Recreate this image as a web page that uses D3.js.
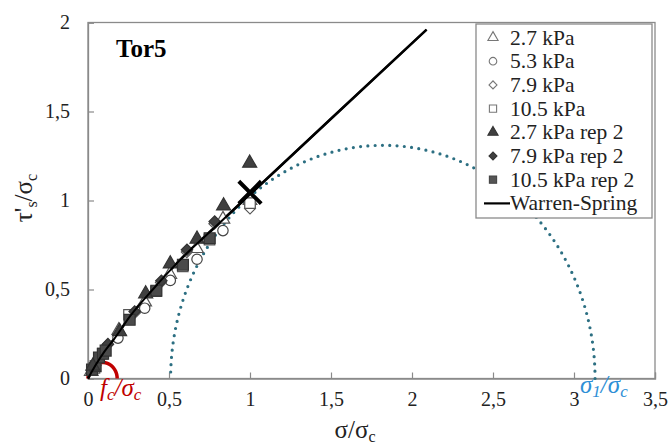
<!DOCTYPE html>
<html><head><meta charset="utf-8">
<script src="https://cdn.jsdelivr.net/npm/d3@7"></script>
<style>body{margin:0;background:#fff}svg{display:block}
svg text{font-family:"Liberation Serif","Times New Roman","DejaVu Serif",serif !important}</style>
</head><body><svg id="c" width="669" height="445"></svg>
<script>
// ---- data ----
const xTicks = [0,0.5,1,1.5,2,2.5,3,3.5];
const xTickLabels = ["0","0,5","1","1,5","2","2,5","3","3,5"];
const yTicks = [0,0.5,1,1.5,2];
const yTickLabels = ["0","0,5","1","1,5","2"];

const s27x  = [0.02,0.19,0.35,0.505,0.67,0.833,1.0];
const s27y  = [0.04,0.27,0.43,0.585,0.73,0.895,1.0];
const s53x  = [0.03,0.185,0.35,0.508,0.673,0.833,1.0];
const s53y  = [0.05,0.227,0.395,0.551,0.67,0.831,0.97];
const s79x  = [0.03,0.12,0.29,0.45,0.61,0.78,1.0];
const s79y  = [0.06,0.19,0.37,0.54,0.71,0.87,0.955];
const s105x = [0.04,0.09,0.253,0.42,0.585,0.75,1.0];
const s105y = [0.06,0.14,0.358,0.49,0.63,0.78,0.985];
const r27x  = [0.03,0.195,0.356,0.508,0.673,0.837,0.998];
const r27y  = [0.07,0.264,0.476,0.644,0.783,0.97,1.21];
const r79x  = [0.045,0.123,0.288,0.453,0.611,0.782];
const r79y  = [0.075,0.193,0.376,0.549,0.723,0.882];
const r105x = [0.025,0.047,0.068,0.093,0.109,0.257,0.422,0.586,0.751];
const r105y = [0.05,0.069,0.118,0.139,0.157,0.33,0.493,0.639,0.788];

const wsX = [0,0.05,0.1,0.16,0.26,0.4,0.57,0.8,1.0,1.5,2.09];
const wsY = [0,0.08,0.15,0.22,0.35,0.5,0.668,0.864,1.034,1.459,1.96];

const mohrCenter = 1.82, mohrRadius = 1.31;
const fcOverSigma = 0.18;
const pointX = [1.0], pointY = [1.045];

const legendLabels = ["2.7 kPa","5.3 kPa","7.9 kPa","10.5 kPa","2.7 kPa rep 2","7.9 kPa rep 2","10.5 kPa rep 2","Warren-Spring"];

// ---- chart ----
const SERIF = '"Liberation Serif","Times New Roman","DejaVu Serif",serif';
const svg = d3.select("#c");
const L=88,R=655,T=22.5,B=378.5;
const x = d3.scaleLinear().domain([0,3.5]).range([L,R]);
const y = d3.scaleLinear().domain([0,2]).range([B,T]);
const grey="#8a8a8a";

svg.append("rect").attr("x",L).attr("y",T).attr("width",R-L).attr("height",B-T)
  .attr("fill","none").attr("stroke",grey).attr("stroke-width",1.3);

const xa = svg.append("g").attr("transform",`translate(0,${B})`)
  .call(d3.axisBottom(x).tickValues(xTicks).tickSize(-6).tickFormat((d,i)=>xTickLabels[i]).tickPadding(13));
const ya = svg.append("g").attr("transform",`translate(${L},0)`)
  .call(d3.axisLeft(y).tickValues(yTicks).tickSize(-6).tickFormat((d,i)=>yTickLabels[i]).tickPadding(18));
[xa,ya].forEach(a=>{
  a.attr("font-family",SERIF);
  a.select(".domain").attr("stroke",grey).attr("stroke-width",1.3);
  a.selectAll(".tick line").attr("stroke",grey).attr("stroke-width",1.2);
  a.selectAll(".tick text").style("font-family",SERIF).attr("font-size",20).attr("fill","#222");
});

// Mohr circle (dotted)
const ang = d3.range(0,181,1).map(a=>a*Math.PI/180);
svg.append("path")
  .attr("d", d3.line().x(a=>x(mohrCenter+mohrRadius*Math.cos(a))).y(a=>y(mohrRadius*Math.sin(a)))(ang))
  .attr("fill","none").attr("stroke","#2c6f82").attr("stroke-width",3.2)
  .attr("stroke-dasharray","0 7.3").attr("stroke-linecap","round");

// red fc circle
const rc = fcOverSigma/2;
svg.append("path")
  .attr("d", d3.line().x(a=>x(rc+rc*Math.cos(a))).y(a=>y(rc*Math.sin(a)))(ang))
  .attr("fill","none").attr("stroke","#c00000").attr("stroke-width",3.5);

const sym = {tri:d3.symbolTriangle, cir:d3.symbolCircle, dia:d3.symbolSquare, sq:d3.symbolSquare};
const series = [
  {xs:s27x,ys:s27y,s:"tri",fill:"#fff",stroke:"#555",size:80},
  {xs:s53x,ys:s53y,s:"cir",fill:"#fff",stroke:"#444",size:85},
  {xs:s79x,ys:s79y,s:"dia",fill:"#fff",stroke:"#555",size:60},
  {xs:s105x,ys:s105y,s:"sq",fill:"#fff",stroke:"#555",size:110},
  {xs:r79x,ys:r79y,s:"dia",fill:"#404040",stroke:"#333",size:65},
  {xs:r105x,ys:r105y,s:"sq",fill:"#4a4a4a",stroke:"#333",size:120},
  {xs:r27x,ys:r27y,s:"tri",fill:"#404040",stroke:"#333",size:85},
];
const wsLine = d3.line().x(d=>x(d[0])).y(d=>y(d[1])).curve(d3.curveMonotoneX);
const wsData = wsX.map((v,i)=>[v,wsY[i]]);
svg.append("path").datum(wsData).attr("d", wsLine)
  .attr("fill","none").attr("stroke","#000").attr("stroke-width",2.6);

series.forEach(se=>{
  svg.append("g").selectAll("path").data(se.xs.map((v,i)=>[v,se.ys[i]])).join("path")
    .attr("transform",d=>`translate(${x(d[0])},${y(d[1])})${se.s==="dia"?" rotate(45)":""}`)
    .attr("d",d3.symbol().type(sym[se.s]).size(se.size))
    .attr("fill",se.fill).attr("stroke",se.stroke).attr("stroke-width",1.2);
});
svg.append("path").datum(wsData).attr("d", wsLine)
  .attr("fill","none").attr("stroke","#000").attr("stroke-width",2.0);

// X marker
svg.append("g").selectAll("path").data(pointX.map((v,i)=>[v,pointY[i]])).join("path")
  .attr("transform",d=>`translate(${x(d[0])},${y(d[1])})`)
  .attr("d",d3.symbol().type(d3.symbolTimes).size(330))
  .attr("fill","none").attr("stroke","#000").attr("stroke-width",4);

svg.append("text").attr("x",116).attr("y",57).attr("font-size",25).attr("font-weight","bold").text("Tor5");

const fl = svg.append("text").attr("x",100).attr("y",396).attr("font-size",25).attr("font-style","italic").attr("fill","#c00000");
fl.append("tspan").text("f");
fl.append("tspan").attr("font-size",17).attr("dy",4).text("c");
fl.append("tspan").attr("dy",-4).text("/σ");
fl.append("tspan").attr("font-size",17).attr("dy",4).text("c");

const sl = svg.append("text").attr("x",580).attr("y",393).attr("font-size",25).attr("font-style","italic").attr("fill","#2e8fd6");
sl.append("tspan").text("σ");
sl.append("tspan").attr("font-size",17).attr("dy",4).text("1");
sl.append("tspan").attr("dy",-4).text("/σ");
sl.append("tspan").attr("font-size",17).attr("dy",4).text("c");

const xt = svg.append("text").attr("x",355).attr("y",438).attr("text-anchor","middle").attr("font-size",25).attr("fill","#222");
xt.append("tspan").text("σ/σ");
xt.append("tspan").attr("font-size",16).attr("dy",4).text("c");

const yt = svg.append("text").attr("transform","translate(32,198) rotate(-90)").attr("text-anchor","middle").attr("font-size",25).attr("fill","#222");
yt.append("tspan").text("τ'");
yt.append("tspan").attr("font-size",16).attr("dy",5).text("s");
yt.append("tspan").attr("dy",-5).text("/σ");
yt.append("tspan").attr("font-size",16).attr("dy",5).text("c");

const lg = svg.append("g");
lg.append("rect").attr("x",476).attr("y",24).attr("width",176).attr("height",194)
  .attr("fill","#fff").attr("stroke",grey).attr("stroke-width",1.3);
const legSyms = [
  {s:"tri",fill:"#fff",stroke:"#777",size:45},{s:"cir",fill:"#fff",stroke:"#777",size:45},
  {s:"dia",fill:"#fff",stroke:"#777",size:32},{s:"sq",fill:"#fff",stroke:"#777",size:52},
  {s:"tri",fill:"#404040",stroke:"#333",size:45},{s:"dia",fill:"#404040",stroke:"#333",size:32},
  {s:"sq",fill:"#555",stroke:"#444",size:52},null];
legendLabels.forEach((lab,i)=>{
  const cy = 37.5 + i*23.7;
  const ls = legSyms[i];
  if(ls){
    lg.append("path").attr("transform",`translate(493,${cy})${ls.s==="dia"?" rotate(45)":""}`)
      .attr("d",d3.symbol().type(sym[ls.s]).size(ls.size))
      .attr("fill",ls.fill).attr("stroke",ls.stroke).attr("stroke-width",1.1);
  } else {
    lg.append("line").attr("x1",484).attr("x2",510).attr("y1",cy).attr("y2",cy).attr("stroke","#000").attr("stroke-width",2.2);
  }
  lg.append("text").attr("x",510).attr("y",cy+7).attr("font-size",21.5).attr("fill","#222").text(lab);
});
</script></body></html>
